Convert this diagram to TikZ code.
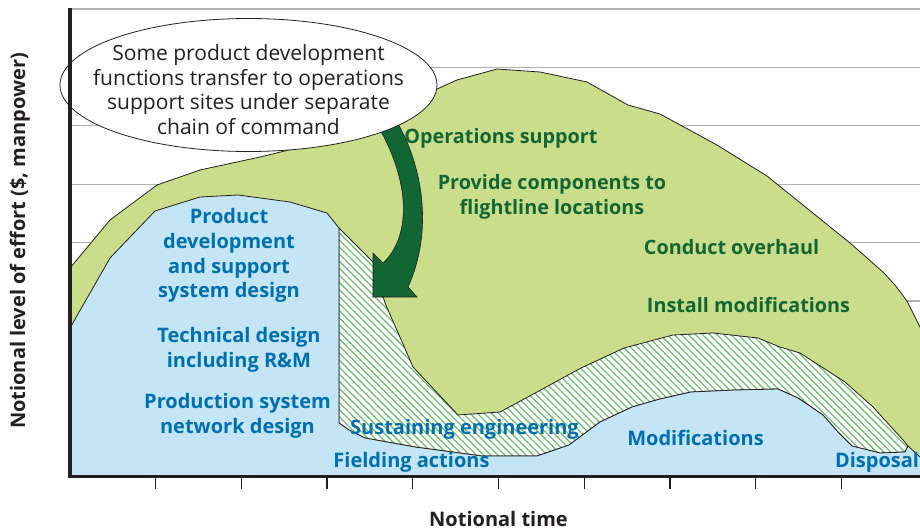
\documentclass[tikz,border=0pt]{standalone}
\usepackage{fontspec}
\setmainfont{Open Sans}
\usetikzlibrary{shapes.geometric, patterns.meta}
\definecolor{leafgreen}{RGB}{201,221,138}
\definecolor{skyblue}{RGB}{196,229,245}
\definecolor{deepgreen}{RGB}{18,102,52}
\definecolor{deepblue}{RGB}{0,111,176}
\definecolor{hatchgreen}{RGB}{112,190,112}
\definecolor{inkgray}{RGB}{35,31,32}
\tikzstyle{gridline} = [draw=black!30, line width=1.3pt]
\tikzstyle{axisline} = [draw=inkgray, line width=3.5pt]
\tikzstyle{tick} = [draw=inkgray, line width=1.3pt]
\tikzstyle{greenarea} = [fill=leafgreen, draw=inkgray, line width=0.8pt, line join=round]
\tikzstyle{bluearea} = [fill=skyblue, draw=inkgray, line width=0.8pt, line join=round]
\tikzstyle{hatcharea} = [preaction={fill=white}, pattern={Lines[angle=-45, distance=5pt, line width=1.3pt]}, pattern color=hatchgreen, draw=inkgray, line width=0.8pt, line join=round]
\tikzstyle{bigarrow} = [fill=deepgreen, draw=inkgray, line width=0.6pt]
\tikzstyle{callout} = [ellipse, draw=inkgray, fill=white, line width=0.8pt, minimum width=377pt, minimum height=133pt, inner xsep=-30pt, inner ysep=-8pt, align=center, text=inkgray, font=\fontsize{21}{24.7}\selectfont]
\tikzstyle{bluelabel} = [align=center, text=deepblue, font=\fontsize{20}{24.8}\selectfont\bfseries]
\tikzstyle{greenlabel} = [align=center, text=deepgreen, font=\fontsize{19.8}{24.5}\selectfont\bfseries]
\tikzstyle{axislabel} = [text=inkgray, font=\fontsize{20}{24}\selectfont\bfseries]

\begin{document}
\begin{tikzpicture}[x=1pt, y=-1pt]
    \useasboundingbox (0,0) rectangle (920,530);

    % Grid
    \foreach \k in {0,...,7}
        \draw [gridline] (70,9+58.4*\k) -- (925,9+58.4*\k);

    % Areas
    \filldraw [greenarea] (70,268) -- (110,220) -- (157,185) -- (200,170) -- (260,157) -- (293,149) -- (360,138) -- (437,89) -- (457,80) -- (497,69) -- (540,72) -- (587,82) -- (628,105) -- (660,114) -- (717,145) -- (767,176) -- (850,243) -- (883,272) -- (895,285) -- (907,301) -- (920,327) -- (930,347) -- (930,476) -- (70,476) -- cycle;
    \filldraw [hatcharea] (339,228) -- (373,262) -- (385,303) -- (413,367) -- (458,415) -- (500,412) -- (537,392) -- (581,368) -- (624,348) -- (673,335) -- (713,333) -- (758,338) -- (780,347) -- (800,353) -- (845,382) -- (873,407) -- (903,440) -- (908,446) -- (905,452) -- (880,453) -- (852,446) -- (838,432) -- (823,415) -- (798,398) -- (778,389) -- (735,390) -- (691,392) -- (660,399) -- (632,407) -- (600,422) -- (569,445) -- (537,456) -- (482,456) -- (415,447) -- (365,438) -- (349,430) -- (339,423) -- cycle;
    \filldraw [bluearea] (70,328) -- (110,258) -- (155,211) -- (200,197) -- (238,195) -- (290,202) -- (327,213) -- (339,228) -- (339,423) -- (349,430) -- (365,438) -- (415,447) -- (482,456) -- (537,456) -- (569,445) -- (600,422) -- (632,407) -- (660,399) -- (691,392) -- (735,390) -- (778,389) -- (798,398) -- (823,415) -- (838,432) -- (852,446) -- (880,453) -- (905,452) -- (908,446) -- (920,457) -- (930,462) -- (930,476) -- (70,476) -- cycle;

    % Transfer arrow
    \filldraw [bigarrow] (378,126) .. controls (412,185) and (410,238) .. (383,263) -- (373,253) -- (373,297) -- (417,297) -- (408,287) .. controls (434,230) and (422,165) .. (397,122) -- cycle;

    % Nodes
    \node (callout) [callout] at (248.5,85) {\rule{0pt}{25pt}Some product development\\functions transfer to operations\\support sites under separate\\chain of command};
    \node (opsupport) [greenlabel] at (501,138) {Operations support};
    \node (components) [greenlabel] at (552,197) {Provide components to\\flightline locations};
    \node (overhaul) [greenlabel] at (731.5,247) {Conduct overhaul};
    \node (install) [greenlabel] at (748.5,305) {Install modifications};
    \node (proddev) [bluelabel] at (229,255.5) {Product\\development\\and support\\system design};
    \node (techdesign) [bluelabel] at (239,350) {Technical design\\including R\&M};
    \node (prodsystem) [bluelabel] at (237.5,415.5) {Production system\\network design};
    \node (sustaining) [bluelabel] at (464.5,429) {Sustaining engineering};
    \node (fielding) [bluelabel] at (411.5,462) {Fielding actions};
    \node (mods) [bluelabel] at (695.5,438) {Modifications};
    \node (disposal) [bluelabel] at (877,462) {Disposal};

    % Axes
    \draw [axisline] (70,8) -- (70,476.5) -- (925,476.5);
    \foreach \k in {1,...,10}
        \draw [tick] (70+85.7*\k,478) -- (70+85.7*\k,489);
    \node (timelabel) [axislabel] at (498.5,519) {Notional time};
    \node (effortlabel) [axislabel, rotate=90] at (20,241) {Notional level of effort (\$, manpower)};
\end{tikzpicture}
\end{document}
